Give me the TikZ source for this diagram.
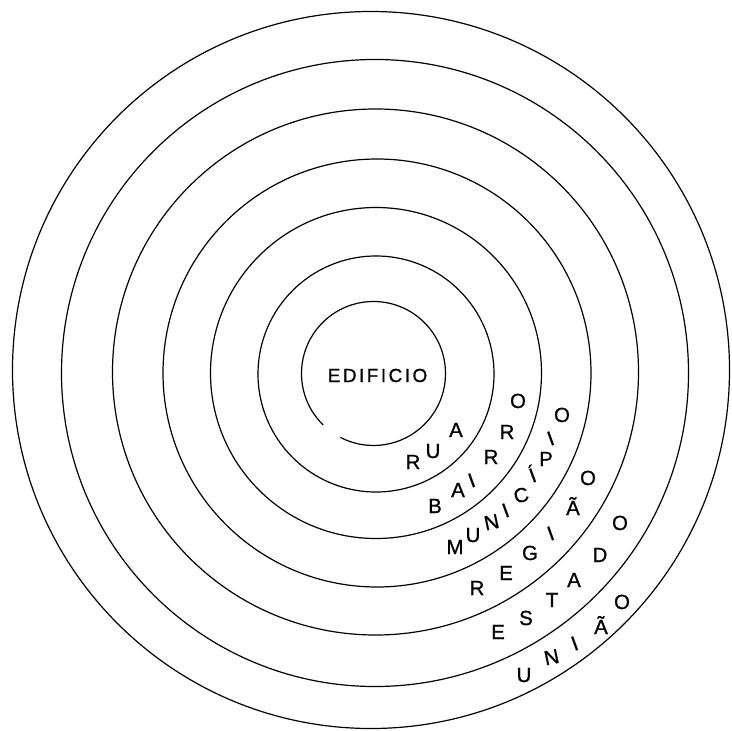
\documentclass[tikz,border=0pt]{standalone}
\usepackage{fontspec}
\setmainfont{Liberation Sans}
\newfontfamily\ringfont[FakeBold=0.9]{Liberation Sans}
\begin{document}
\begin{tikzpicture}[x=1bp,y=-1bp,
  ring/.style={draw=black,line width=1.2bp},
  ltr/.style={font=\ringfont\fontsize{20.5}{24}\selectfont,inner sep=0pt,anchor=base},
  tilt/.style={ltr,rotate=20}]
\useasboundingbox (0,0) rectangle (732,731);
% circles
\draw[ring] (373.5,373.5) ++(134.4:72) arc[start angle=134.4,end angle=477.4,radius=72];
\draw[ring] (376,374) circle[radius=118];
\draw[ring] (376,373) circle[radius=165.5];
\draw[ring] (377,373) circle[radius=214];
\draw[ring] (375.5,372) circle[radius=263];
\draw[ring] (375,373) circle[radius=313.5];
\draw[ring] (371,370) circle[radius=358.5];
% centre label
\node[font=\ringfont\fontsize{19}{23}\selectfont,inner sep=0pt,anchor=base] (edificio) at (377.5,382) {E\kern2.5bp D\kern2.5bp I\kern2.5bp F\kern2.5bp I\kern2.5bp C\kern2.5bp I\kern2.5bp O};
% RUA
\node[ltr] (rua1) at (413,469) {R};
\node[ltr] (rua2) at (433,458) {U};
\node[ltr] (rua3) at (456,437) {A};
% BAIRRO
\node[ltr] (bai1) at (435,513) {B};
\node[ltr] (bai2) at (458,497) {A};
\node[tilt] (bai3) at (474,487) {I};
\node[ltr] (bai4) at (491,464) {R};
\node[ltr] (bai5) at (507,439) {R};
\node[ltr] (bai6) at (518,408) {O};
% MUNICIPIO
\node[ltr] (mun1) at (455,554) {M};
\node[ltr] (mun2) at (473,542) {U};
\node[ltr,rotate=12] (mun3) at (493,529) {N};
\node[tilt] (mun4) at (508,517) {I};
\node[ltr,rotate=15] (mun5) at (523,502) {C};
\node[tilt] (mun6) at (535,482) {Í};
\node[ltr] (mun7) at (546,466) {P};
\node[tilt] (mun8) at (553,445) {I};
\node[ltr] (mun9) at (562,422) {O};
% REGIAO
\node[ltr] (reg1) at (477,595) {R};
\node[ltr] (reg2) at (506,580) {E};
\node[ltr] (reg3) at (530,560) {G};
\node[tilt] (reg4) at (553,540) {I};
\node[ltr] (reg5) at (573,515) {Ã};
\node[ltr] (reg6) at (588,485) {O};
% ESTADO
\node[ltr] (est1) at (498,639) {E};
\node[ltr] (est2) at (526,625) {S};
\node[ltr] (est3) at (552,607) {T};
\node[ltr] (est4) at (574,587) {A};
\node[ltr] (est5) at (600,562) {D};
\node[ltr] (est6) at (620,530) {O};
% UNIAO
\node[ltr] (uni1) at (524,682) {U};
\node[ltr,rotate=12] (uni2) at (553,664) {N};
\node[tilt] (uni3) at (577,650) {I};
\node[ltr] (uni4) at (601,634) {Ã};
\node[ltr] (uni5) at (622,609) {O};
\end{tikzpicture}
\end{document}
